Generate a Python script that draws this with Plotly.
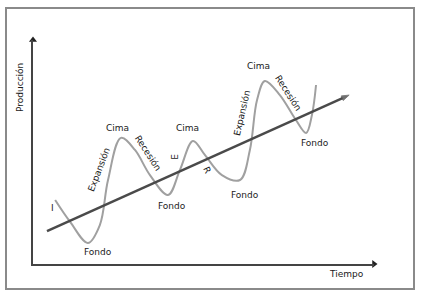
import plotly.graph_objects as go

# Wave (business cycle): time vs production (0-100 units)
tiempo = [6.5, 10.9, 16.1, 19.6, 22.0, 25.8, 29.9, 34.3, 39.6, 43.1, 46.9,
          50.4, 55.4, 60.7, 63.6, 65.7, 68.0, 72.4, 77.1, 80.1, 81.8, 83.0]
produccion = [28.6, 18.8, 9.4, 17.4, 37.5, 56.3, 50.9, 39.7, 30.8, 42.0, 54.9,
              48.7, 39.7, 37.5, 50.9, 73.2, 81.7, 75.4, 64.3, 58.5, 66.5, 79.9]

# Trend line endpoints
tendencia_t = [4.1, 92.7]
tendencia_p = [14.7, 75.4]

# Phase labels: text, time, production, angle
etiquetas = ["I", "Fondo", "Expansión", "Cima", "Recesión", "Fondo", "E", "Cima",
             "R", "Fondo", "Expansión", "Cima", "Recesión", "Fondo"]
etiq_t = [5.6, 19.1, 19.3, 24.9, 33.7, 40.8, 41.6, 45.2, 51.0, 62.2, 61.3, 66.0, 74.8, 82.7]
etiq_p = [25.0, 5.4, 42.0, 60.7, 49.6, 25.9, 47.8, 60.7, 42.0, 30.8, 67.4, 88.4, 76.3, 54.0]
etiq_ang = [0, 0, -69, 0, 57, 0, -90, 0, 65, 0, -77, 0, 57, 0]

W, H = 421, 292
fig = go.Figure()

fig.add_trace(go.Scatter(x=tiempo, y=produccion, mode="lines",
                         line=dict(color="#a0a0a0", width=2, shape="spline", smoothing=1.0),
                         hoverinfo="skip", cliponaxis=False))
fig.add_trace(go.Scatter(x=tendencia_t, y=tendencia_p, mode="lines+markers",
                         line=dict(color="#4a4a4a", width=2.5),
                         marker=dict(symbol=["circle", "arrow"], size=[0, 8],
                                     angleref="previous", color="#333"),
                         hoverinfo="skip", cliponaxis=False))
# axis arrowheads
fig.add_trace(go.Scatter(x=[0, 100], y=[100, 0], mode="markers",
                         marker=dict(symbol=["triangle-up", "triangle-right"], size=7, color="#222"),
                         hoverinfo="skip", cliponaxis=False))

ann = []
for txt, t, p, a in zip(etiquetas, etiq_t, etiq_p, etiq_ang):
    ann.append(dict(x=t, y=p, xref="x", yref="y", text=txt, showarrow=False,
                    textangle=a, font=dict(family="DejaVu Sans", size=9, color="#1a1a1a")))
ann.append(dict(x=20 / W, y=1 - 88 / H, xref="paper", yref="paper", text="Producción",
                showarrow=False, textangle=-90, xanchor="center", yanchor="middle",
                font=dict(family="DejaVu Sans", size=9, color="#1a1a1a")))
ann.append(dict(x=346 / W, y=1 - 274 / H, xref="paper", yref="paper", text="Tiempo",
                showarrow=False, xanchor="center", yanchor="middle",
                font=dict(family="DejaVu Sans", size=9, color="#1a1a1a")))

fig.update_layout(
    width=W, height=H, margin=dict(l=0, r=0, t=0, b=0),
    paper_bgcolor="white", plot_bgcolor="white", showlegend=False,
    xaxis=dict(domain=[33 / W, 374 / W], range=[0, 100], showline=True, linecolor="#444",
               linewidth=2, showgrid=False, zeroline=False, showticklabels=False, ticks=""),
    yaxis=dict(domain=[28 / H, 252 / H], range=[0, 100], showline=True, linecolor="#444",
               linewidth=2, showgrid=False, zeroline=False, showticklabels=False, ticks=""),
    annotations=ann,
    shapes=[dict(type="rect", xref="paper", yref="paper", x0=6 / W, x1=414 / W,
                 y0=1 - 289 / H, y1=1 - 8 / H, line=dict(color="#8a8a8a", width=2))],
)

fig.write_html("out.html", config={"displayModeBar": False},
               post_script="document.body.style.margin='0';document.body.style.overflow='hidden';")
